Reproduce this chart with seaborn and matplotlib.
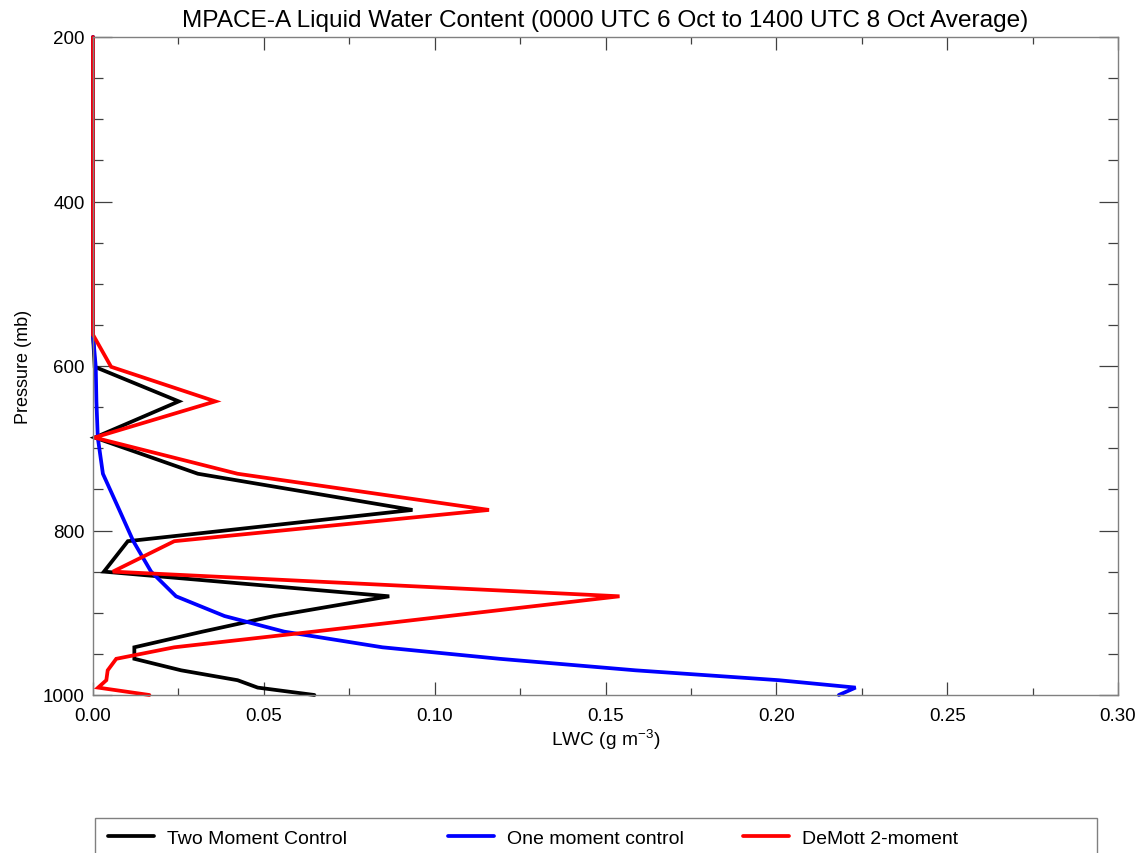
import numpy as np
import pandas as pd
import matplotlib
matplotlib.use("Agg")
import matplotlib.pyplot as plt
from matplotlib.patches import Rectangle
from matplotlib.ticker import MultipleLocator, FormatStrFormatter
import seaborn as sns

# ---- data ----
pressure = [200, 562, 601, 643, 687, 731, 775, 813, 850, 880, 904, 923, 942, 956, 970, 982, 991, 1000]
two_moment_control = [0.0, 0.0, 0.0005, 0.0251, 0.0005, 0.0307, 0.0935, 0.0102, 0.0032, 0.0867,
                      0.0530, 0.0320, 0.0121, 0.0121, 0.0258, 0.0423, 0.0482, 0.0648]
one_moment_control = [0.0, 0.0, 0.0008, 0.0010, 0.0014, 0.0029, 0.0077, 0.0118, 0.0170, 0.0243,
                      0.0385, 0.0560, 0.0847, 0.1190, 0.1588, 0.2007, 0.2232, 0.2183]
demott_2_moment = [0.0, 0.0, 0.0053, 0.0358, 0.0004, 0.0423, 0.1159, 0.0238, 0.0058, 0.1541,
                   0.1040, 0.0645, 0.0238, 0.0068, 0.0043, 0.0039, 0.0015, 0.0165]
series_names = ["Two Moment Control", "One moment control", "DeMott 2-moment"]
series_colors = ["#000000", "#0000ff", "#ff0000"]
x_ticks = [0.00, 0.05, 0.10, 0.15, 0.20, 0.25, 0.30]
y_ticks = [200, 400, 600, 800, 1000]

frames = []
for name, vals in zip(series_names, [two_moment_control, one_moment_control, demott_2_moment]):
    frames.append(pd.DataFrame({"p": pressure, "lwc": vals, "series": name}))
df = pd.concat(frames, ignore_index=True)

sns.set_style("ticks")
plt.rcParams["font.family"] = ["Liberation Sans", "DejaVu Sans"]
plt.rcParams["mathtext.fontset"] = "custom"
plt.rcParams["mathtext.rm"] = "Liberation Sans"
plt.rcParams["mathtext.default"] = "regular"
plt.rcParams["text.color"] = "black"
plt.rcParams["axes.labelcolor"] = "black"

W, H = 1142, 854
fig = plt.figure(figsize=(W / 100, H / 100), dpi=100)
ax = fig.add_axes([93 / W, 1 - 696 / H, (1118 - 93) / W, (696 - 38) / H])

sns.lineplot(data=df, x="lwc", y="p", hue="series", hue_order=series_names,
             palette=dict(zip(series_names, series_colors)), sort=False,
             estimator=None, linewidth=2.7, legend=False, ax=ax)
for ln in ax.get_lines():
    ln.set_clip_on(False)
    ln.set_solid_joinstyle("miter")

ax.set_xlim(0, 0.30)
ax.set_ylim(1000, 200)
ax.set_xticks(x_ticks)
ax.set_yticks(y_ticks)
ax.xaxis.set_major_formatter(FormatStrFormatter("%.2f"))
ax.xaxis.set_minor_locator(MultipleLocator(0.025))
ax.yaxis.set_minor_locator(MultipleLocator(50))
ax.tick_params(axis="both", which="both", direction="in", top=True, right=True,
               colors="#404040", labelcolor="black", labelsize=13.5, width=0.9)
ax.tick_params(axis="y", which="major", length=14, pad=6)
ax.tick_params(axis="y", which="minor", length=7)
ax.tick_params(axis="x", which="major", length=9.5, pad=9)
ax.tick_params(axis="x", which="minor", length=5)
for sp in ax.spines.values():
    sp.set_color("#808080")
    sp.set_linewidth(1.0)
    sp.set_visible(True)

ax.set_xlabel("LWC (g m$^{\\mathrm{-3}}$)", fontsize=13.8, labelpad=2)
ax.set_ylabel("Pressure (mb)", fontsize=13, labelpad=8)
ax.set_title("MPACE-A Liquid Water Content (0000 UTC 6 Oct to 1400 UTC 8 Oct Average)",
             fontsize=17.6, pad=8, color="black")

# legend box (extends below the figure edge as in the reference)
fig.patches.append(Rectangle((95 / W, -0.05), (1097 - 95) / W, 0.05 + (854 - 819) / H,
                             transform=fig.transFigure, fill=False,
                             edgecolor="#808080", linewidth=1.0))
lines = ax.get_lines()
leg_x = [108, 448, 743]
for ln, name, lx in zip(lines, series_names, leg_x):
    leg = fig.legend([ln], [name], loc="center left", bbox_to_anchor=(lx / W, 1 - 839 / H),
                     frameon=False, fontsize=14, handlelength=2.37, handletextpad=0.67,
                     borderpad=0, borderaxespad=0)
    for t in leg.get_texts():
        t.set_color("black")

fig.savefig("out.png", dpi=100)
